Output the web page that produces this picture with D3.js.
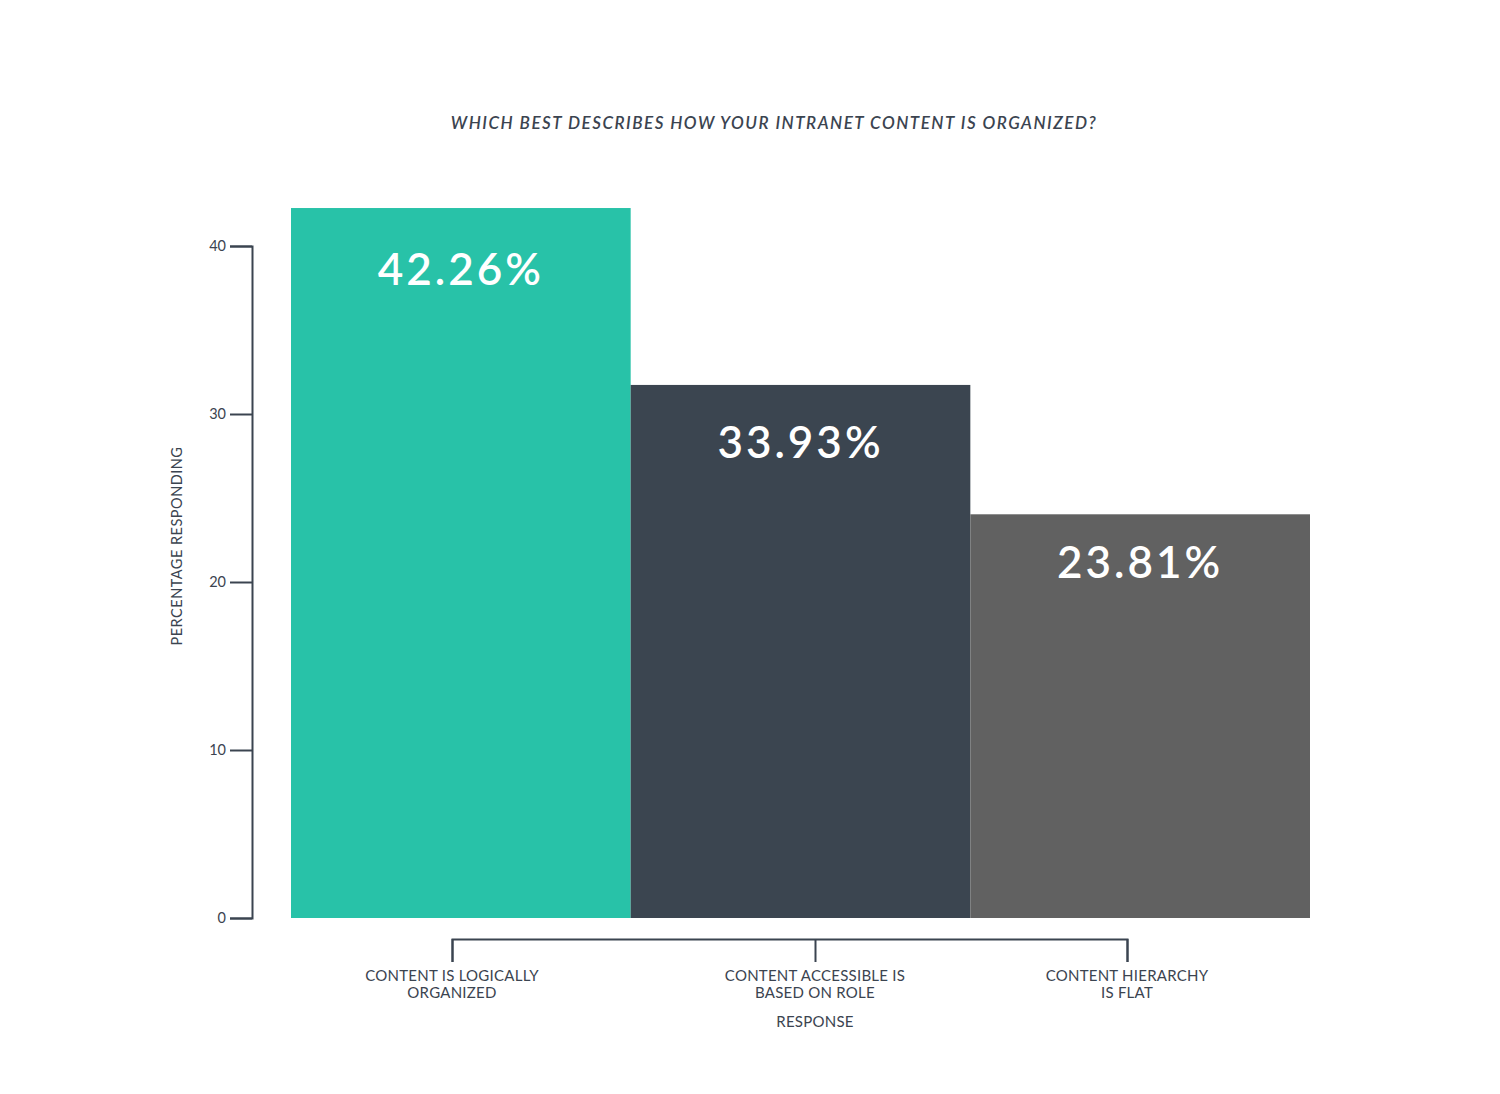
<!DOCTYPE html>
<html>
<head>
<meta charset="utf-8">
<script src="https://cdn.jsdelivr.net/npm/d3@7/dist/d3.min.js"></script>
<style>
  html, body { margin: 0; padding: 0; background: #ffffff; }
  svg { display: block; }
  text { font-family: Lato, "Open Sans", sans-serif; }
</style>
</head>
<body>
<svg id="chart" width="1500" height="1094"></svg>
<script>
// ---- data ----
const categories = ["Content is logically organized", "Content accessible is based on role", "Content hierarchy is flat"];
const categoryLabels = [
  ["CONTENT IS LOGICALLY", "ORGANIZED"],
  ["CONTENT ACCESSIBLE IS", "BASED ON ROLE"],
  ["CONTENT HIERARCHY", "IS FLAT"]
];
const barValues = [42.26, 31.73, 24.03];          // bar heights as drawn
const valueLabels = ["42.26%", "33.93%", "23.81%"]; // labels as printed
const yTicks = [0, 10, 20, 30, 40];
const title = "WHICH BEST DESCRIBES HOW YOUR INTRANET CONTENT IS ORGANIZED?";
const yTitle = "PERCENTAGE RESPONDING";
const xTitle = "RESPONSE";

// ---- layout / style ----
const colors = ["#28c2a8", "#3b4550", "#616161"];
const ink = "#3b4450";
const plot = { left: 291, right: 1310, top: 246, bottom: 918 };
const axisX = 252;
const bracketY = 939;
const bracketStops = [452, 815, 1127];   // bracket tick positions (layout)
const labelDy = [77, 73, 64];            // value label baseline below bar top

const svg = d3.select("#chart");

const x = d3.scaleBand().domain(categories).range([plot.left, plot.right]).padding(0);
const y = d3.scaleLinear().domain([0, 40]).range([plot.bottom, plot.top]);

// title
svg.append("text")
  .attr("x", 774).attr("y", 129)
  .attr("text-anchor", "middle")
  .attr("font-size", 17)
  .attr("font-style", "italic")
  .attr("font-weight", 600)
  .attr("letter-spacing", 1.5)
  .attr("fill", ink)
  .text(title);

// bars
svg.selectAll("rect.bar").data(barValues).join("rect")
  .attr("class", "bar")
  .attr("x", (d, i) => x(categories[i]))
  .attr("width", x.bandwidth())
  .attr("y", d => y(d))
  .attr("height", d => y(0) - y(d))
  .attr("fill", (d, i) => colors[i]);

// value labels
svg.selectAll("text.val").data(barValues).join("text")
  .attr("class", "val")
  .attr("x", (d, i) => x(categories[i]) + x.bandwidth() / 2)
  .attr("y", (d, i) => y(d) + labelDy[i])
  .attr("text-anchor", "middle")
  .attr("font-size", 44)
  .attr("font-weight", 600)
  .attr("letter-spacing", 3)
  .attr("fill", "#ffffff")
  .text((d, i) => valueLabels[i]);

// y axis
const yAxis = d3.axisLeft(y).tickValues(yTicks).tickSize(22).tickSizeOuter(22).tickPadding(4);
const gy = svg.append("g").attr("transform", `translate(${axisX},0)`).call(yAxis);
gy.select(".domain").attr("stroke", ink).attr("stroke-width", 2);
gy.selectAll(".tick line").attr("stroke", ink).attr("stroke-width", 2);
gy.selectAll(".tick text").attr("fill", ink).attr("font-size", 14.5).attr("font-family", "Lato, sans-serif");

svg.append("text")
  .attr("transform", "translate(182,546) rotate(-90)")
  .attr("text-anchor", "middle")
  .attr("font-size", 14.5)
  .attr("letter-spacing", 0.5)
  .attr("fill", ink)
  .text(yTitle);

// x bracket axis
const xPos = d3.scaleLinear().domain([0, 1, 2]).range(bracketStops);
const xAxis = d3.axisBottom(xPos).tickValues([0, 1, 2]).tickSize(23).tickSizeOuter(23).tickFormat("");
const gx = svg.append("g").attr("transform", `translate(0,${bracketY})`).call(xAxis);
gx.select(".domain").attr("stroke", ink).attr("stroke-width", 2);
gx.selectAll(".tick line").attr("stroke", ink).attr("stroke-width", 2);

const lab = svg.selectAll("text.cat").data(categoryLabels).join("text")
  .attr("class", "cat")
  .attr("x", (d, i) => xPos(i))
  .attr("y", 981)
  .attr("text-anchor", "middle")
  .attr("font-size", 15)
  .attr("letter-spacing", 0.25)
  .attr("fill", ink);
lab.selectAll("tspan").data(d => d).join("tspan")
  .attr("x", function () { return d3.select(this.parentNode).attr("x"); })
  .attr("dy", (d, j) => j === 0 ? 0 : 17)
  .text(d => d);

svg.append("text")
  .attr("x", xPos(1)).attr("y", 1027)
  .attr("text-anchor", "middle")
  .attr("font-size", 15)
  .attr("letter-spacing", 0.25)
  .attr("fill", ink)
  .text(xTitle);
</script>
</body>
</html>
